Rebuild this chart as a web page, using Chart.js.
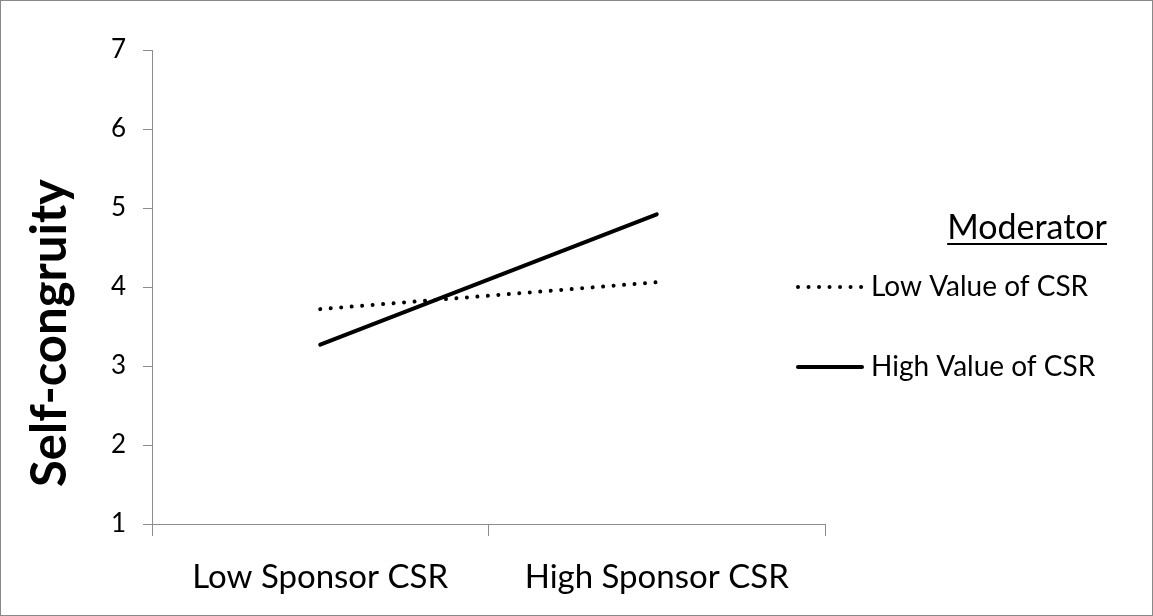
<!DOCTYPE html>
<html>
<head>
<meta charset="utf-8">
<script src="https://cdn.jsdelivr.net/npm/chart.js@4.4.1/dist/chart.umd.min.js"></script>
<style>
  html, body { margin: 0; padding: 0; background: #fff; }
  #wrap { width: 1153px; height: 616px; position: relative; }
</style>
</head>
<body>
<div id="wrap"><canvas id="graphCanvas"></canvas></div>
<script>
const categories = ['Low Sponsor CSR', 'High Sponsor CSR'];
const lowCSR = [3.72, 4.06];
const highCSR = [3.27, 4.92];
const seriesNames = ['Low Value of CSR', 'High Value of CSR'];
const yTicks = [1, 2, 3, 4, 5, 6, 7];
const yTitle = 'Self-congruity';
const legendTitle = 'Moderator';

const FONT = 'Lato';
const axisGray = '#8c8c8c';

// frame, y title and custom legend with underlined "Moderator" title
const legendPlugin = {
    id: 'moderatorLegend',
    beforeDraw(chart) {
        const ctx = chart.ctx;
        ctx.save();
        ctx.fillStyle = '#fff';
        ctx.fillRect(0, 0, chart.width, chart.height);
        ctx.strokeStyle = '#888';
        ctx.lineWidth = 1;
        ctx.strokeRect(0.5, 0.5, chart.width - 1, chart.height - 1);
        ctx.restore();
    },
    afterDraw(chart) {
        const ctx = chart.ctx;
        ctx.save();
        ctx.fillStyle = '#000';

        // rotated axis title
        ctx.save();
        ctx.translate(50, 333);
        ctx.rotate(-Math.PI / 2);
        ctx.font = 'bold 49px ' + FONT;
        ctx.textAlign = 'center';
        ctx.textBaseline = 'middle';
        ctx.fillText(yTitle, 0, 0);
        ctx.restore();

        ctx.textBaseline = 'middle';
        ctx.font = '34px ' + FONT;
        ctx.textAlign = 'left';
        const tw = ctx.measureText(legendTitle).width;
        const tx = 1107 - tw;
        ctx.fillText(legendTitle, tx, 228);
        ctx.fillRect(tx, 243, tw, 2);

        ctx.font = '28px ' + FONT;
        const rows = [287, 367];
        chart.data.datasets.forEach((ds, i) => {
            const y = rows[i];
            ctx.beginPath();
            ctx.strokeStyle = ds.borderColor;
            ctx.lineWidth = ds.borderWidth;
            ctx.lineCap = 'round';
            ctx.setLineDash(ds.borderDash || []);
            ctx.moveTo(798, y);
            ctx.lineTo(862, y);
            ctx.stroke();
            ctx.setLineDash([]);
            ctx.fillText(ds.label, 871, y);
        });
        ctx.restore();
    }
};

const context = document.getElementById('graphCanvas').getContext('2d');
const chart = new Chart(context, {
    type: 'line',
    data: {
        labels: categories,
        datasets: [
            {
                label: seriesNames[0],
                data: lowCSR,
                borderColor: '#000',
                borderWidth: 4,
                borderDash: [0.01, 10.5],
                borderCapStyle: 'round',
                pointRadius: 0,
                fill: false
            },
            {
                label: seriesNames[1],
                data: highCSR,
                borderColor: '#000',
                borderWidth: 4,
                borderCapStyle: 'round',
                pointRadius: 0,
                fill: false
            }
        ]
    },
    options: {
        responsive: true,
        maintainAspectRatio: false,
        animation: false,
        layout: { padding: { left: 0, top: 50, right: 328, bottom: 0 } },
        plugins: {
            legend: { display: false },
            tooltip: { enabled: false }
        },
        scales: {
            x: {
                offset: true,
                grid: {
                    offset: true,
                    drawOnChartArea: false,
                    drawTicks: true,
                    tickLength: 12,
                    color: axisGray
                },
                border: { color: axisGray, width: 1 },
                ticks: {
                    color: '#000',
                    padding: 22,
                    font: { family: FONT, size: 33 },
                    maxRotation: 0
                },
                afterFit(scale) { scale.height = 92; }
            },
            y: {
                min: 1,
                max: 7,
                afterBuildTicks(scale) { scale.ticks = yTicks.map(v => ({ value: v })); },
                grid: {
                    drawOnChartArea: false,
                    drawTicks: true,
                    tickLength: 9,
                    color: axisGray
                },
                border: { color: axisGray, width: 1 },
                ticks: {
                    color: '#000',
                    padding: 17,
                    font: { family: FONT, size: 26 }
                },
                afterFit(scale) { scale.width = 152; }
            }
        }
    },
    plugins: [legendPlugin]
});
</script>
</body>
</html>
